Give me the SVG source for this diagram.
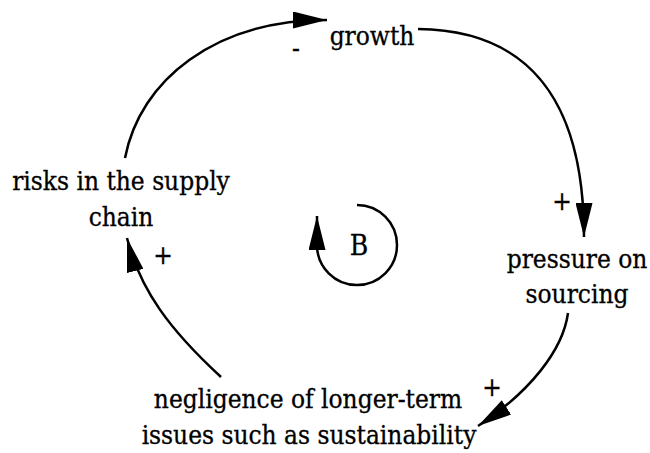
<svg xmlns="http://www.w3.org/2000/svg" width="650" height="453" viewBox="0 0 650 453">
<style>
text{font-family:'DejaVu Serif Condensed','DejaVu Serif','Liberation Serif',serif;font-size:26px;fill:#000;text-anchor:middle;stroke:#000;stroke-width:0.3}
.c{fill:none;stroke:#000;stroke-width:2.5;marker-end:url(#ah)}
</style>
<defs>
<marker id="ah" markerUnits="userSpaceOnUse" markerWidth="34" markerHeight="17" refX="34" refY="8.5" orient="auto">
<path d="M0,0 L34,8.5 L0,17 z" fill="#000"/>
</marker>
</defs>
<rect width="650" height="453" fill="#fff"/>
<g id="connectors">
<path class="c" d="M125,158 C140,80 215,20 327,20"/>
<path class="c" d="M418,29 C520,30 584,90 584,237"/>
<path class="c" d="M568,313 C563,350 530,392 478,426"/>
<path class="c" d="M221,377 C170,330 140,290 127,238"/>
<path class="c" d="M357,205 A40,40 0 1 1 317,245 L317,216"/>
</g>
<g id="growth"><text x="372" y="45">growth</text></g>
<g id="pressure"><text x="577" y="268">pressure on</text><text x="577" y="303">sourcing</text></g>
<g id="negligence"><text x="308" y="408">negligence of longer-term</text><text x="309" y="444">issues such as sustainability</text></g>
<g id="risks"><text x="121" y="190">risks in the supply</text><text x="121" y="226">chain</text></g>
<g id="loop"><text x="359" y="255" style="font-size:28px">B</text></g>
<g id="polarities">
<text x="296" y="57">-</text>
<text x="562" y="210">+</text>
<text x="492" y="396">+</text>
<text x="163" y="264">+</text>
</g>
</svg>
